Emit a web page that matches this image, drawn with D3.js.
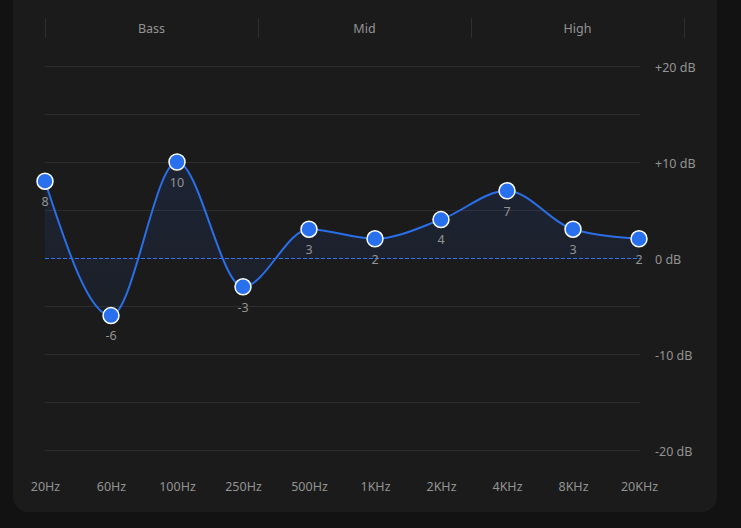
<!DOCTYPE html>
<html>
<head>
<meta charset="utf-8">
<script src="https://cdn.jsdelivr.net/npm/d3@7"></script>
<style>
  html, body { margin: 0; padding: 0; background: #121212; }
  svg { display: block; font-family: "Noto Sans", sans-serif; }
</style>
</head>
<body>
<svg id="eq" width="741" height="528"></svg>
<script>
// eq bands and gains
var bands = ['20Hz', '60Hz', '100Hz', '250Hz', '500Hz', '1KHz', '2KHz', '4KHz', '8KHz', '20KHz'];
var gains = [8, -6, 10, -3, 3, 2, 4, 7, 3, 2];
var dbTicks = [20, 10, 0, -10, -20];
var gridTicks = [20, 15, 10, 5, -5, -10, -15, -20];
var groups = ['Bass', 'Mid', 'High'];

var width = 741;
var height = 528;
var textCol = '#939393';
var svg = d3.select('#eq');

// card
svg.append('rect')
  .attr('x', 13).attr('y', -20)
  .attr('width', 704).attr('height', 532)
  .attr('rx', 15)
  .attr('fill', '#1b1b1b');

var x = d3.scalePoint().domain(bands).range([45, 639]);
var y = d3.scaleLinear().domain([-20, 20]).range([450, 66]);

// group headers
var gx = d3.scaleBand().domain(groups).range([45, 684]);
var head = svg.append('g').attr('class', 'groups');
head.selectAll('line')
  .data(groups.concat(['end']))
  .join('line')
  .attr('x1', function(d, i) { return i < groups.length ? gx(d) : gx.range()[1]; })
  .attr('x2', function(d, i) { return i < groups.length ? gx(d) : gx.range()[1]; })
  .attr('y1', 18).attr('y2', 38)
  .attr('stroke', '#2e2e2e')
  .attr('shape-rendering', 'crispEdges');
head.selectAll('text')
  .data(groups)
  .join('text')
  .attr('x', function(d) { return gx(d) + gx.bandwidth() / 2; })
  .attr('y', 29)
  .attr('dy', '0.35em')
  .attr('text-anchor', 'middle')
  .attr('fill', textCol)
  .style('font-size', '12.5px')
  .text(function(d) { return d; });

// grid
svg.append('g')
  .selectAll('line')
  .data(gridTicks)
  .join('line')
  .attr('x1', 45).attr('x2', 640)
  .attr('y1', function(d) { return y(d); })
  .attr('y2', function(d) { return y(d); })
  .attr('stroke', '#2d2d2d')
  .attr('shape-rendering', 'crispEdges');

// y labels on the right
var yAxis = d3.axisRight(y)
  .tickValues(dbTicks)
  .tickSize(0)
  .tickPadding(0)
  .tickFormat(function(d) { return (d > 0 ? '+' : '') + d + ' dB'; });
var ya = svg.append('g').attr('transform', 'translate(655,1)').call(yAxis);
ya.select('.domain').remove();
ya.selectAll('text').attr('fill', textCol).style('font-size', '12.5px').style('font-family', '"Noto Sans", sans-serif');

// x labels
var xAxis = d3.axisBottom(x).tickSize(0).tickPadding(0);
var xa = svg.append('g').attr('transform', 'translate(0,482.5)').call(xAxis);
xa.select('.domain').remove();
xa.selectAll('text').attr('fill', textCol).style('font-size', '12.5px').style('font-family', '"Noto Sans", sans-serif');

// area + line
var pts = bands.map(function(b, i) { return { band: b, gain: gains[i] }; });

var defs = svg.append('defs');
var grad = defs.append('linearGradient')
  .attr('id', 'fillGrad')
  .attr('x1', 0).attr('y1', 0).attr('x2', 0).attr('y2', 1);
grad.append('stop').attr('offset', '0%').attr('stop-color', '#2563eb').attr('stop-opacity', 0.12);
grad.append('stop').attr('offset', '100%').attr('stop-color', '#2563eb').attr('stop-opacity', 0.06);

var area = d3.area()
  .x(function(d) { return x(d.band); })
  .y0(y(0))
  .y1(function(d) { return y(d.gain); })
  .curve(d3.curveMonotoneX);

svg.append('path')
  .datum(pts)
  .attr('d', area)
  .attr('fill', 'url(#fillGrad)');

// zero line
svg.append('line')
  .attr('x1', 45).attr('x2', 640)
  .attr('y1', y(0)).attr('y2', y(0))
  .attr('stroke', '#2b78f5')
  .attr('stroke-width', 1)
  .attr('stroke-dasharray', '4,2')
  .attr('shape-rendering', 'crispEdges');

var line = d3.line()
  .x(function(d) { return x(d.band); })
  .y(function(d) { return y(d.gain); })
  .curve(d3.curveMonotoneX);

svg.append('path')
  .datum(pts)
  .attr('d', line)
  .attr('fill', 'none')
  .attr('stroke', '#2a6fe8')
  .attr('stroke-width', 2);

// value labels
svg.append('g')
  .selectAll('text')
  .data(pts)
  .join('text')
  .attr('x', function(d) { return x(d.band); })
  .attr('y', function(d) { return y(d.gain) + 20.5; })
  .attr('dy', '0.35em')
  .attr('text-anchor', 'middle')
  .attr('fill', textCol)
  .style('font-size', '12.5px')
  .text(function(d) { return d.gain; });

// handles
svg.append('g')
  .selectAll('circle')
  .data(pts)
  .join('circle')
  .attr('cx', function(d) { return x(d.band); })
  .attr('cy', function(d) { return y(d.gain); })
  .attr('r', 8)
  .attr('fill', '#2870ee')
  .attr('stroke', '#ffffff')
  .attr('stroke-width', 1.5);
</script>
</body>
</html>
